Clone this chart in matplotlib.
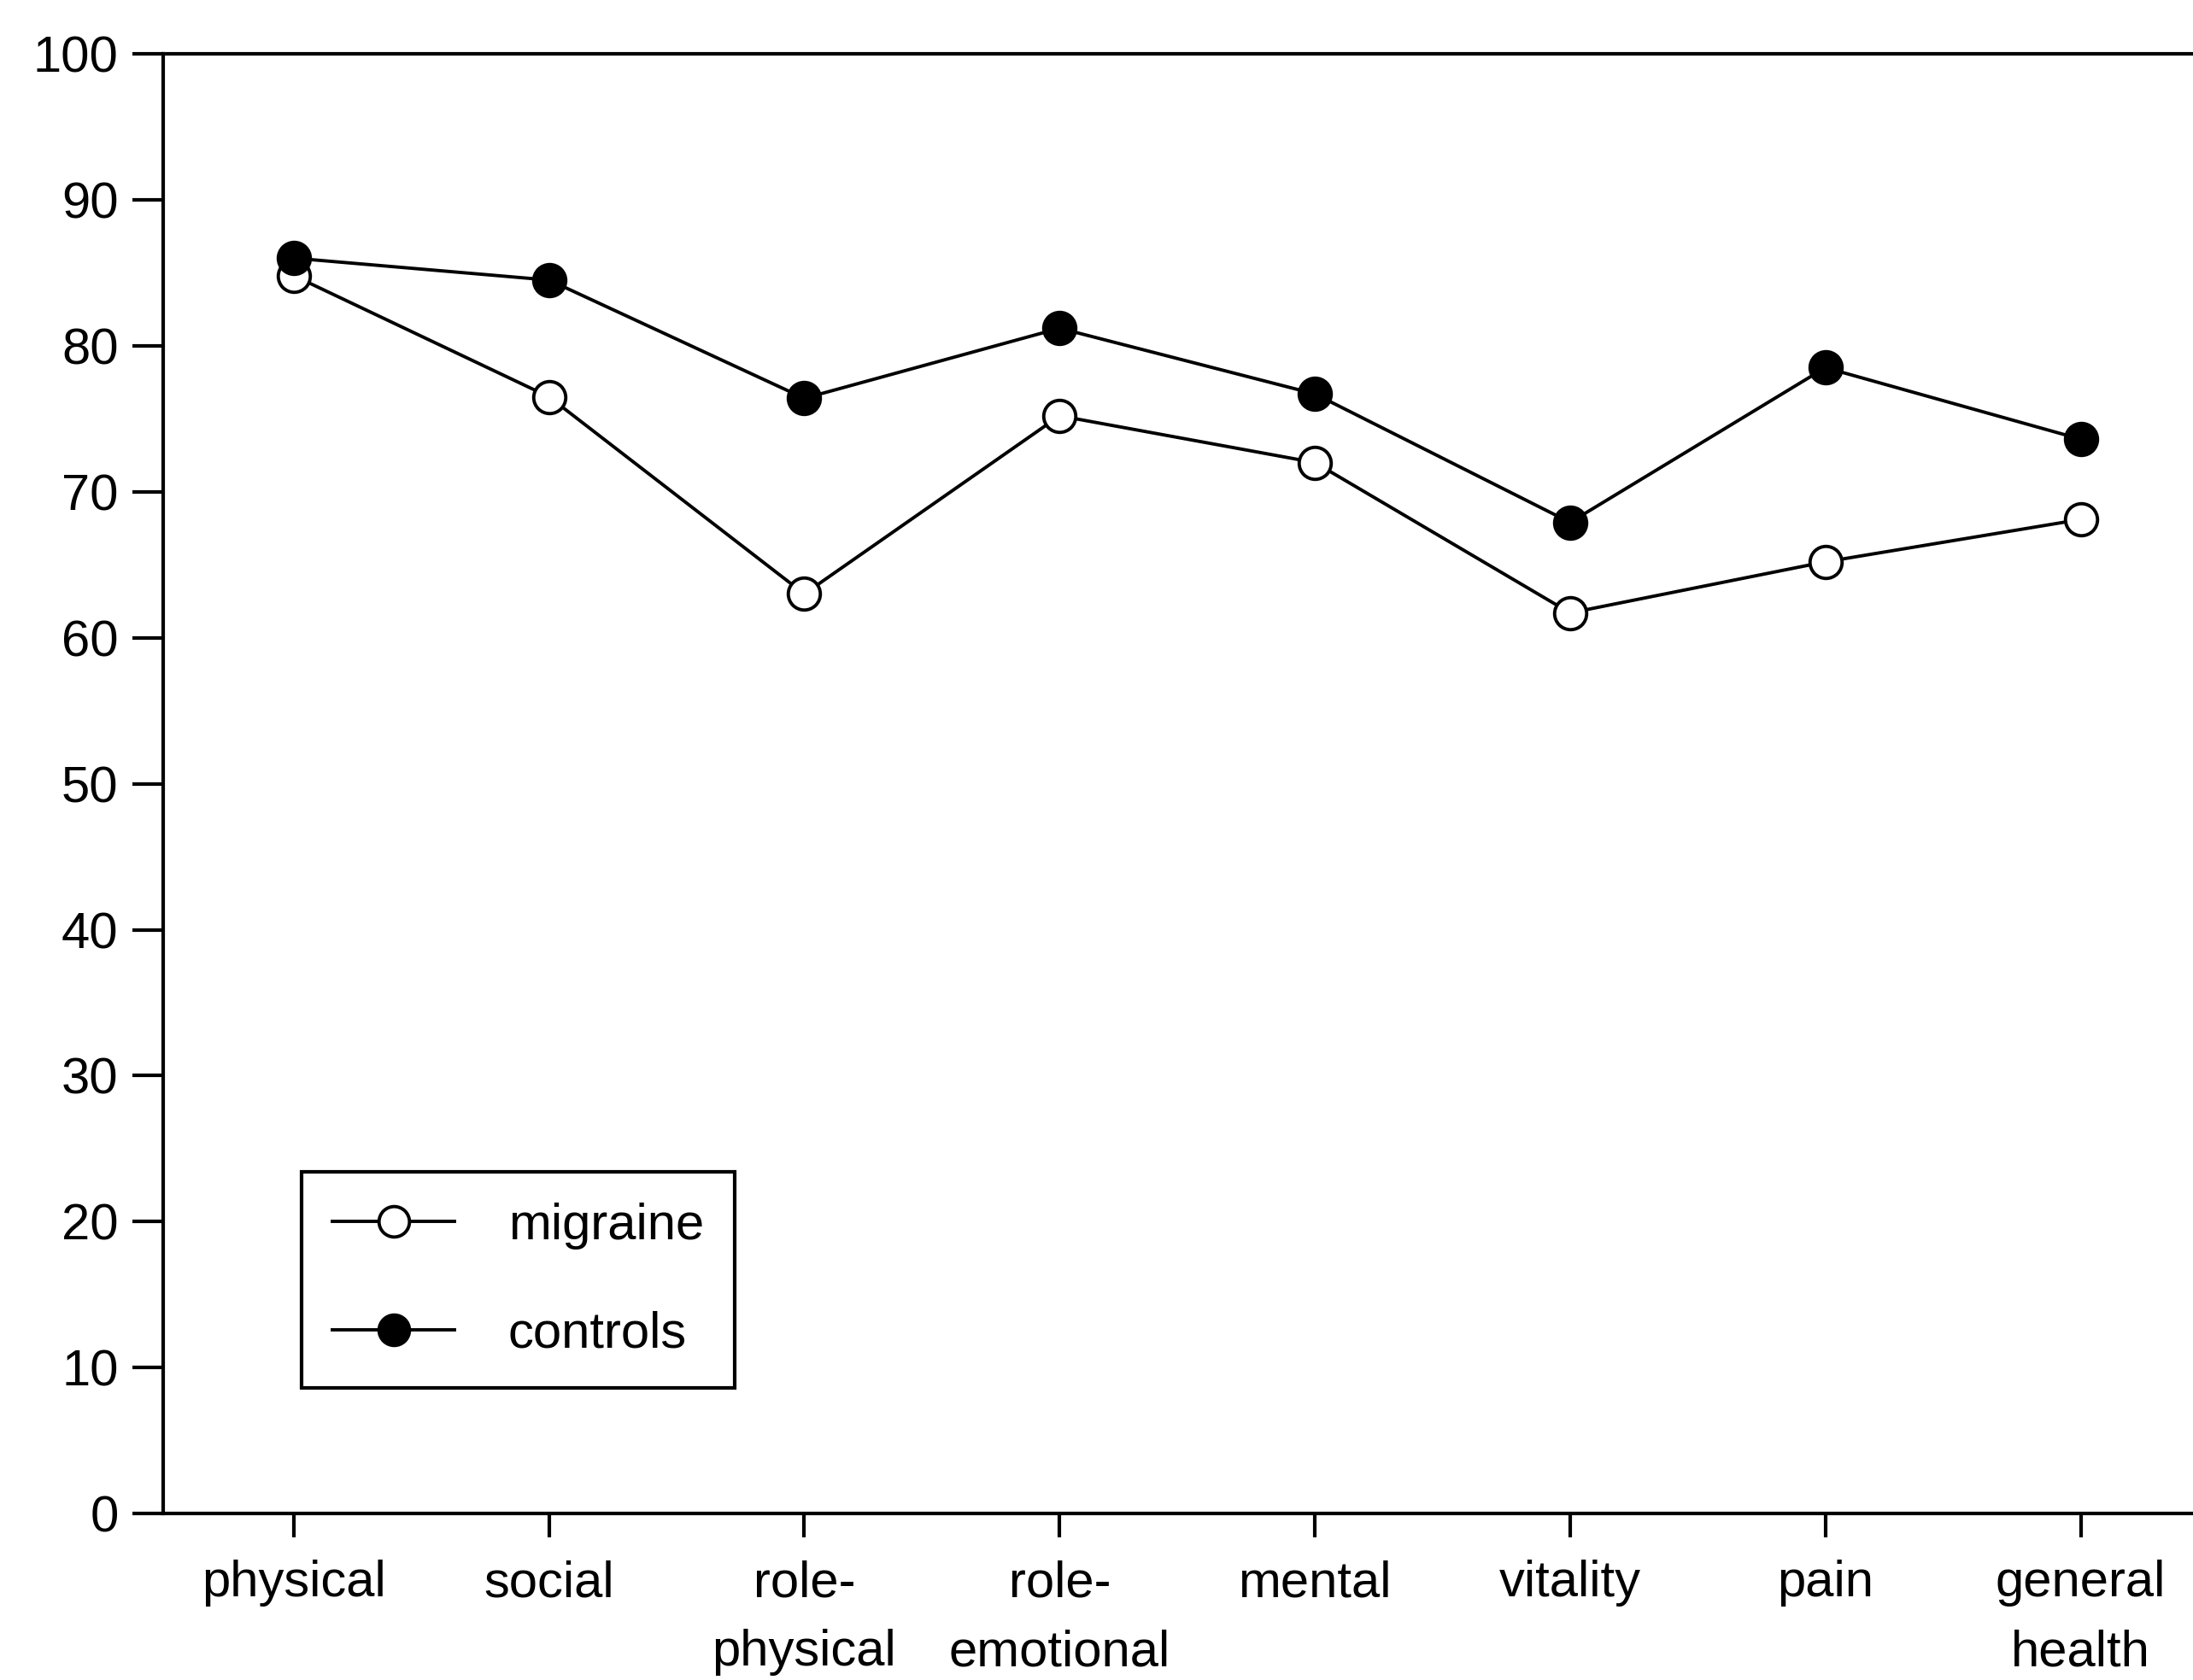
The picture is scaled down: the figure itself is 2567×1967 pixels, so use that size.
import matplotlib
matplotlib.use("Agg")
import matplotlib.pyplot as plt
import numpy as np

categories = ["physical", "social", "role-\nphysical", "role-\nemotional",
              "mental", "vitality", "pain", "general\nhealth"]
migraine = [84.8, 76.5, 63.0, 75.2, 72.0, 61.7, 65.2, 68.1]
controls = [86.0, 84.5, 76.4, 81.2, 76.7, 67.9, 78.5, 73.6]
yticks = [0, 10, 20, 30, 40, 50, 60, 70, 80, 90, 100]

plt.rcParams['font.family'] = ['Liberation Sans', 'DejaVu Sans']

fig = plt.figure(figsize=(25.67, 19.67), dpi=100)
ax = fig.add_axes([0.0746, 0.099, 0.9254, 0.869])

x = np.arange(len(categories))
ax.plot(x, migraine, '-o', color='black', lw=2.8, ms=27, mfc='white',
        mec='black', mew=2.8, label='migraine', zorder=3)
ax.plot(x, controls, '-o', color='black', lw=2.8, ms=27, mfc='black',
        mec='black', mew=2.8, label='controls', zorder=3)

ax.set_xlim(-0.51, 7.44)
ax.set_ylim(0, 100)
ax.set_yticks(yticks)
ax.set_xticks(x)
ax.set_xticklabels(categories, linespacing=1.6)

ax.spines['right'].set_visible(False)
for s in ['left', 'top', 'bottom']:
    ax.spines[s].set_linewidth(3)
ax.tick_params(axis='y', direction='out', length=26, width=3, pad=12, labelsize=43)
ax.tick_params(axis='x', direction='out', length=20, width=3, pad=19, labelsize=43)

leg = ax.legend(loc='lower left', bbox_to_anchor=(0.068, 0.086), fontsize=43,
                frameon=True, fancybox=False, edgecolor='black', framealpha=1,
                handlelength=2.4, handletextpad=1.05, labelspacing=1.2,
                borderpad=0.6, borderaxespad=0, markerscale=0.95)
leg.get_frame().set_linewidth(3)

fig.savefig("out.png", dpi=100)
